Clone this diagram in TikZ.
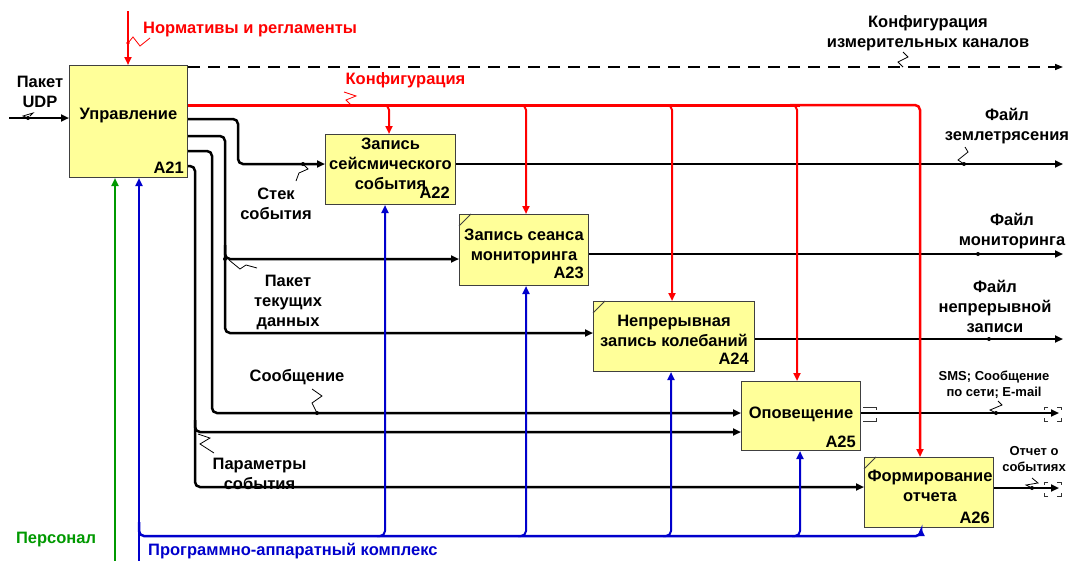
\documentclass[tikz,border=0pt]{standalone}
\usepackage{fontspec}
\setmainfont{Liberation Sans}
\usetikzlibrary{arrows.meta,calc}
\definecolor{boxfill}{RGB}{255,255,153}
\definecolor{cred}{RGB}{255,0,0}
\definecolor{cblue}{RGB}{0,0,204}
\definecolor{cgreen}{RGB}{0,153,0}
\begin{document}
\begin{tikzpicture}[x=1pt,y=-1pt,
  box/.style={draw=black!75,line width=1pt,fill=boxfill,inner sep=0pt,anchor=north west},
  txt/.style={font=\fontsize{16.5}{20}\selectfont\bfseries,align=center,inner sep=0pt},
  onetxt/.style={font=\fontsize{16.5}{20}\selectfont\bfseries,inner sep=0pt,text height=12pt,text depth=3.5pt},
  smalltxt/.style={font=\fontsize{13}{16}\selectfont\bfseries,align=center,inner sep=0pt},
  num/.style={font=\fontsize{16.5}{20}\selectfont\bfseries,inner sep=0pt,anchor=base east},
  flow/.style={draw=black,line width=2.5pt,rounded corners=5pt,-{Triangle[length=8pt,width=7pt]}},
  dashflow/.style={draw=black,line width=1.5pt,dash pattern=on 12pt off 8pt,-{Triangle[length=8pt,width=6pt]}},
  redthick/.style={draw=cred,line width=3pt,rounded corners=5pt},
  redflow/.style={draw=cred,line width=2pt,rounded corners=5pt,-{Triangle[length=8pt,width=7pt]}},
  blueline/.style={draw=cblue,line width=2.5pt,rounded corners=5pt},
  blueflow/.style={draw=cblue,line width=2pt,rounded corners=5pt,-{Triangle[length=8pt,width=7pt]}},
  greenflow/.style={draw=cgreen,line width=2pt,-{Triangle[length=8pt,width=7pt]}},
  squig/.style={draw=black,line width=0.8pt},
  redsquig/.style={draw=cred,line width=0.8pt},
  tunnel/.style={draw=black!80,line width=1pt},
  corner/.style={draw=black!75,line width=0.8pt},
]
\useasboundingbox (0,0) rectangle (1068,560);
\fill[white] (0,0) rectangle (1068,560);

% ---------- boxes ----------
\node[box,minimum width=118pt,minimum height=112pt] (a21) at (69,65) {};
\node[box,minimum width=130pt,minimum height=70pt] (a22) at (325,134) {};
\node[box,minimum width=129pt,minimum height=71pt] (a23) at (459,214) {};
\node[box,minimum width=161pt,minimum height=70pt] (a24) at (593,301) {};
\node[box,minimum width=119pt,minimum height=69pt] (a25) at (741,381) {};
\node[box,minimum width=129pt,minimum height=70pt] (a26) at (864,457) {};

\draw[corner] ($(a23.north west)+(0,12)$) -- ($(a23.north west)+(12,0)$);
\draw[corner] ($(a24.north west)+(0,12)$) -- ($(a24.north west)+(12,0)$);
\draw[corner] ($(a26.north west)+(0,12)$) -- ($(a26.north west)+(12,0)$);

\node[onetxt] (a21t) at ($(a21.center)+(0,-6)$) {Управление};
\node[txt] (a22t) at ($(a22.center)+(0,-6)$) {Запись\\сейсмического\\события};
\node[txt] (a23t) at ($(a23.center)+(0,-4)$) {Запись сеанса\\мониторинга};
\node[txt] (a24t) at ($(a24.center)+(0,-5.5)$) {Непрерывная\\запись колебаний};
\node[onetxt] (a25t) at ($(a25.center)+(0,-1.5)$) {Оповещение};
\node[txt] (a26t) at ($(a26.center)+(1,-6.5)$) {Формирование\\отчета};

\node[num] (a21n) at ($(a21.south east)+(-4,-5)$) {A21};
\node[num] (a22n) at ($(a22.south east)+(-6,-7)$) {A22};
\node[num] (a23n) at ($(a23.south east)+(-5,-8)$) {A23};
\node[num] (a24n) at ($(a24.south east)+(-6,-8)$) {A24};
\node[num] (a25n) at ($(a25.south east)+(-5,-4)$) {A25};
\node[num] (a26n) at ($(a26.south east)+(-4,-5)$) {A26};

% ---------- labels ----------
\node[onetxt,text=cred,anchor=base west] (lnorm) at (143,33) {Нормативы и регламенты};
\node[txt] (lchan) at (928,33) {Конфигурация\\измерительных каналов};
\node[onetxt,text=cred] (lcfg) at (405.5,80.5) {Конфигурация};
\node[txt] (ludp) at (40,91.5) {Пакет\\UDP};
\node[txt] (lstek) at (276,203.5) {Стек\\события};
\node[txt] (lpak) at (288,302) {Пакет\\текущих\\данных};
\node[onetxt] (lsoob) at (297,377.5) {Сообщение};
\node[txt] (lpar) at (259.5,473.5) {Параметры\\события};
\node[txt] (lf1) at (1007,126) {Файл\\землетрясения};
\node[txt] (lf2) at (1012,231) {Файл\\мониторинга};
\node[txt] (lf3) at (995,306.5) {Файл\\непрерывной\\записи};
\node[smalltxt] (lsms) at (994,384.5) {SMS; Сообщение\\по сети; E-mail};
\node[smalltxt] (lrep) at (1034,459.5) {Отчет о\\событиях};
\node[onetxt,text=cgreen] (lpers) at (56,539) {Персонал};
\node[onetxt,text=cblue,anchor=west] (lprog) at (148,551) {Программно-аппаратный комплекс};

% ---------- black flows ----------
\coordinate (udpin) at (9,118);
\draw[flow] (udpin) -- (udpin -| a21.west);

\coordinate (chanout) at (1063,67);
\draw[dashflow] (a21.east |- chanout) -- (chanout);

\draw[flow] (a21.east |- 0,119) -- (238,119) -- (238,164) -- (a22.west |- 0,164);
\draw[flow] (a21.east |- 0,136) -- (225,136) -- (225,259) -- (a23.west |- 0,259);
\draw[flow] (225,245) -- (225,333) -- (a24.west |- 0,333);
\draw[flow] (a21.east |- 0,151) -- (212,151) -- (212,413) -- (a25.west |- 0,413);
\draw[flow] (a21.east |- 0,166) -- (195,166) -- (195,432) -- (a25.west |- 0,432);
\draw[flow] (195,420) -- (195,487) -- (a26.west |- 0,487);

\coordinate (o22) at (1063,164);
\coordinate (o23) at (1063,254);
\coordinate (o24) at (1063,339);
\coordinate (o25) at (1059,413);
\coordinate (o26) at (1059,488);
\draw[flow] (a22.east |- o22) -- (o22);
\draw[flow] (a23.east |- o23) -- (o23);
\draw[flow] (a24.east |- o24) -- (o24);
\draw[flow] (a25.east |- o25) -- (o25);
\draw[flow] (a26.east |- o26) -- (o26);

% tunnels
\draw[tunnel] ($(a25.east |- o25)+(2,-6)$) -- ++(13,0) -- ++(0,3);
\draw[tunnel] ($(a25.east |- o25)+(2,8)$) -- ++(13,0) -- ++(0,-3);
\foreach \yy in {413,488}{
  \draw[tunnel] (1048,\yy-6) -- (1044,\yy-6) -- (1044,\yy-3);
  \draw[tunnel] (1048,\yy+8) -- (1044,\yy+8) -- (1044,\yy+5);
  \draw[tunnel] (1057,\yy-6) -- (1061,\yy-6) -- (1061,\yy-3);
  \draw[tunnel] (1057,\yy+8) -- (1061,\yy+8) -- (1061,\yy+5);
}

% ---------- red controls ----------
\coordinate (normin) at (128,11);
\draw[redflow] (normin) -- (normin |- a21.north);
\draw[redthick] (a21.east |- 0,105) -- (800,105);
\draw[redflow,line width=2.5pt] (790,105) -- (920,105) -- (920,105 |- a26.north);
\foreach \bx/\bn in {389/a22,526/a23,672/a24,797/a25}
  \draw[redflow] (\bx-8,105) -| (\bx,0 |- \bn.north);

% ---------- blue mechanisms ----------
\draw[blueline,-{Triangle[length=8pt,width=7pt]}] (139,522) |- (921,536) -- (921,0 |- a26.south);
\foreach \bx/\bn in {385/a22,526/a23,671/a24,800/a25}
  \draw[blueflow] (\bx-8,536) -| (\bx,0 |- \bn.south);
\coordinate (mechin) at (139,561);
\draw[blueflow] (mechin) -- (mechin |- a21.south);

% ---------- green ----------
\coordinate (persin) at (115,561);
\draw[greenflow] (persin) -- (persin |- a21.south);

% ---------- squiggles ----------
\draw[redsquig] (128,43) -- (133,37) -- (140,46) -- (150,38);
\fill[cred] (128,43) circle (1.8pt);
\draw[redsquig] (351,105) -- (346,100) -- (356,96) -- (344,92);
\draw[squig] (28,118) -- (23,116) -- (33,113) -- (30,116);
\draw[squig] (903,67) -- (898,62) -- (908,57) -- (903,52);
\draw[squig] (303,164) -- (308,169) -- (299,173) -- (296,181);
\draw[squig] (229,260) -- (240,269) -- (246,265) -- (257,268);
\draw[squig] (312,389) -- (322,396) -- (312,403) -- (317,413);
\draw[squig] (198,434) -- (210,438) -- (200,444) -- (214,453);
\draw[squig] (964,164) -- (958,160) -- (968,152) -- (965,147);
\draw[squig] (996,413) -- (990,410) -- (1002,405) -- (998,401);
\draw[squig] (1032,488) -- (1026,485) -- (1038,483) -- (1032,478);
\foreach \px/\py in {28/118,303/164,225/259,317/413,964/164,978/254,989/339,996/413,1032/488}
  \fill[black] (\px,\py) circle (2pt);
\end{tikzpicture}
\end{document}
